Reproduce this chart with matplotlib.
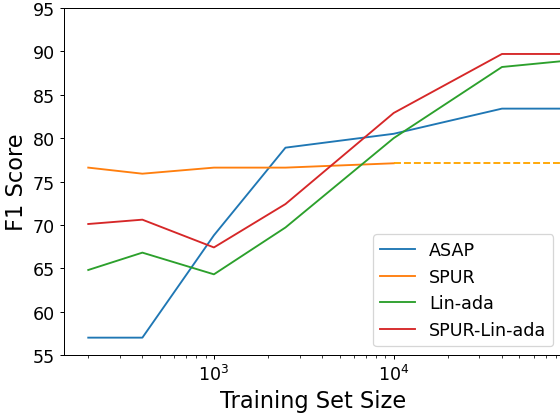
import numpy as np
import matplotlib.pyplot as plt

# training set sizes and F1 scores
sizes = [200, 400, 1000, 2500, 10000, 40000, 100000]
asap = [57.0, 57.0, 68.8, 78.9, 80.5, 83.4, 83.4]
spur = [76.6, 75.9, 76.6, 76.6, 77.1]
lin_ada = [64.8, 66.8, 64.3, 69.7, 80.0, 88.2, 89.0]
spur_lin_ada = [70.1, 70.6, 67.4, 72.4, 82.9, 89.7, 89.7]

# SPUR only has runs up to 10^4; its last value is carried on as a dashed line
spur_ext_sizes = [10000, 100000]
spur_ext = [77.1, 77.1]

fig = plt.figure(figsize=(560 / 90, 414 / 90), dpi=90)
ax = fig.add_axes([64 / 560, 58 / 414, 498 / 560, 347 / 414])

ax.plot(sizes, asap, label='ASAP')
ax.plot(sizes[:len(spur)], spur, label='SPUR')
ax.plot(sizes, lin_ada, label='Lin-ada')
ax.plot(sizes, spur_lin_ada, label='SPUR-Lin-ada')
ax.plot(spur_ext_sizes, spur_ext, '--', color='orange')

ax.set_xscale('log')
ax.set_xlim(146.6, 86300)
ax.set_ylim(55, 95)
ax.set_xlabel('Training Set Size', fontsize=18)
ax.set_ylabel('F1 Score', fontsize=18)
ax.tick_params(labelsize=14)
ax.legend(loc='lower right', fontsize=14)

fig.savefig('out.png', dpi=90)
